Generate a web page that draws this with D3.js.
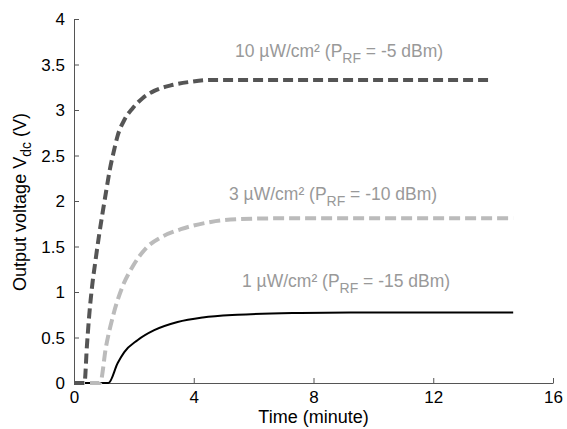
<!doctype html>
<html>
<head>
<script src="https://d3js.org/d3.v7.min.js"></script>
<style>
  body { margin: 0; background: white; }
  text { font-family: "Liberation Sans", Arial, sans-serif; }
</style>
</head>
<body>
<svg id="chart" width="567" height="429"></svg>
<script>
// time in minutes, voltage in volts
var timeHigh = [0, 0.35, 0.43, 0.51, 0.6, 0.72, 0.84, 0.96, 1.08, 1.2, 1.34, 1.46, 1.68, 1.96, 2.29, 2.68, 3.23, 3.9, 4.57, 6, 9, 13.9];
var voltHigh = [0, 0, 0.4, 0.75, 1.05, 1.35, 1.63, 1.88, 2.12, 2.35, 2.56, 2.72, 2.89, 3.02, 3.13, 3.21, 3.27, 3.31, 3.33, 3.33, 3.33, 3.33];

var timeMid = [0, 0.87, 1.07, 1.33, 1.62, 1.96, 2.46, 2.9, 3.57, 4.57, 5.46, 7, 10, 14.67];
var voltMid = [0, 0, 0.4, 0.77, 1.06, 1.28, 1.5, 1.6, 1.69, 1.77, 1.8, 1.81, 1.81, 1.81];

var timeLow = [0, 1.15, 1.46, 1.68, 2.12, 2.68, 3.46, 4.3, 5.46, 7.57, 9.23, 14.67];
var voltLow = [0, 0, 0.22, 0.34, 0.47, 0.58, 0.67, 0.72, 0.75, 0.77, 0.775, 0.775];

var xTicks = [0, 4, 8, 12, 16];
var yTicks = [0, 0.5, 1, 1.5, 2, 2.5, 3, 3.5, 4];

var svg = d3.select("#chart");
var mLeft = 74, mRight = 553, mTop = 19, mBottom = 383;

var x = d3.scaleLinear().domain([0, 16]).range([mLeft, mRight]);
var y = d3.scaleLinear().domain([0, 4]).range([mBottom, mTop]);

function pts(ts, vs) { return ts.map(function(t, i){ return [t, vs[i]]; }); }
var line = d3.line().curve(d3.curveMonotoneX)
  .x(function(d){ return x(d[0]); }).y(function(d){ return y(d[1]); });

// axes, ticks pointing inward like matlab
var xAxis = svg.append("g").attr("transform", "translate(0," + mBottom + ")")
  .call(d3.axisBottom(x).tickValues(xTicks).tickSize(-5).tickPadding(7).tickSizeOuter(0));
var yAxis = svg.append("g").attr("transform", "translate(" + mLeft + ",0)")
  .call(d3.axisLeft(y).tickValues(yTicks).tickSize(-5).tickPadding(8).tickSizeOuter(0)
    .tickFormat(function(d){ return d; }));
[xAxis, yAxis].forEach(function(g){
  g.select(".domain").attr("stroke", "#555").attr("stroke-width", 1);
  g.selectAll(".tick line").attr("stroke", "#555");
  g.selectAll(".tick text").attr("fill", "#000").style("font-size", "17px")
    .style("font-family", "Liberation Sans, Arial, sans-serif");
});
xAxis.selectAll(".tick text").attr("dy", "0.75em");
yAxis.selectAll(".tick text").attr("dx", "-1").attr("dy", "0.35em");

// curves
svg.append("path").datum(pts(timeLow, voltLow)).attr("d", line)
  .attr("fill", "none").attr("stroke", "#000").attr("stroke-width", 2);
svg.append("path").datum(pts(timeMid, voltMid)).attr("d", line)
  .attr("fill", "none").attr("stroke", "#bbbbbb").attr("stroke-width", 4)
  .attr("stroke-dasharray", "11,5");
svg.append("path").datum(pts(timeHigh, voltHigh)).attr("d", line)
  .attr("fill", "none").attr("stroke", "#555555").attr("stroke-width", 4)
  .attr("stroke-dasharray", "10,5");

// curve labels
function label(xp, yp, pre, post) {
  var t = svg.append("text").attr("x", xp).attr("y", yp)
    .attr("fill", "#999").style("font-size", "17.5px");
  t.append("tspan").text(pre + " \u00b5W/cm\u00b2 (P");
  t.append("tspan").text("RF").attr("dy", 6).style("font-size", "14px");
  t.append("tspan").text(" = " + post + " dBm)").attr("dy", -6);
}
label(235, 57, "10", "-5");
label(229, 200, "3", "-10");
label(242, 287, "1", "-15");

// axis titles
svg.append("text").attr("x", (mLeft + mRight) / 2).attr("y", 423)
  .attr("text-anchor", "middle").style("font-size", "18px").text("Time (minute)");
var yl = svg.append("text").attr("transform", "translate(26,202) rotate(-90)")
  .attr("text-anchor", "middle").style("font-size", "18px");
yl.append("tspan").text("Output voltage V");
yl.append("tspan").text("dc").attr("dy", 5).style("font-size", "14px");
yl.append("tspan").text(" (V)").attr("dy", -5);
</script>
</body>
</html>
